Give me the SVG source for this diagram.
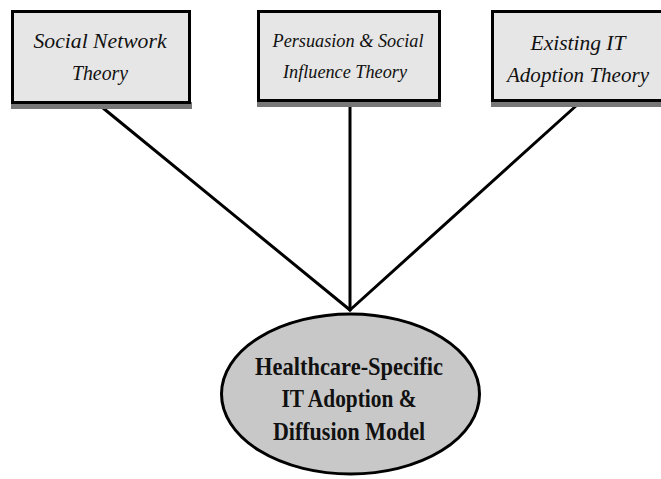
<svg xmlns="http://www.w3.org/2000/svg" width="661" height="479" viewBox="0 0 661 479">
<style>
.box{fill:#e6e6e6;stroke:#000;stroke-width:3}
.shadow{fill:#777}
.it{font-family:"Liberation Serif",serif;font-style:italic;fill:#111;text-anchor:middle}
.bd{font-family:"Liberation Serif",serif;font-weight:bold;font-size:25px;fill:#111;text-anchor:middle}
.conn{stroke:#000;stroke-width:3;fill:none;stroke-linecap:round}
</style>
<rect width="661" height="479" fill="#fff"/>
<g id="connectors">
<line class="conn" x1="103" y1="108" x2="350" y2="310"/>
<line class="conn" x1="350" y1="105" x2="350" y2="310"/>
<line class="conn" x1="577" y1="105" x2="350" y2="310"/>
</g>
<g id="n1">
<rect class="shadow" x="11" y="102" width="181" height="7"/>
<rect class="box" x="12.5" y="11.5" width="177" height="91"/>
<text class="it" x="100" y="48" font-size="21" textLength="133" lengthAdjust="spacingAndGlyphs">Social Network</text>
<text class="it" x="100" y="80" font-size="21" textLength="56" lengthAdjust="spacingAndGlyphs">Theory</text>
</g>
<g id="n2">
<rect class="shadow" x="257" y="100" width="184" height="7"/>
<rect class="box" x="258.5" y="11.5" width="181" height="89"/>
<text class="it" x="348" y="47" font-size="18" textLength="151" lengthAdjust="spacingAndGlyphs">Persuasion &amp; Social</text>
<text class="it" x="345" y="78" font-size="18" textLength="124" lengthAdjust="spacingAndGlyphs">Influence Theory</text>
</g>
<g id="n3">
<rect class="shadow" x="491" y="100" width="170" height="7"/>
<rect class="box" x="492.5" y="11.5" width="170" height="89"/>
<text class="it" x="578" y="50" font-size="21" textLength="95" lengthAdjust="spacingAndGlyphs">Existing IT</text>
<text class="it" x="578" y="82" font-size="21" textLength="142" lengthAdjust="spacingAndGlyphs">Adoption Theory</text>
</g>
<g id="n4">
<ellipse cx="350.5" cy="394" rx="129" ry="80" fill="#c8c8c8" stroke="#000" stroke-width="3"/>
<text class="bd" x="349" y="375" textLength="188" lengthAdjust="spacingAndGlyphs">Healthcare-Specific</text>
<text class="bd" x="349" y="407" textLength="135" lengthAdjust="spacingAndGlyphs">IT Adoption &amp;</text>
<text class="bd" x="349" y="440" textLength="152" lengthAdjust="spacingAndGlyphs">Diffusion Model</text>
</g>
</svg>
